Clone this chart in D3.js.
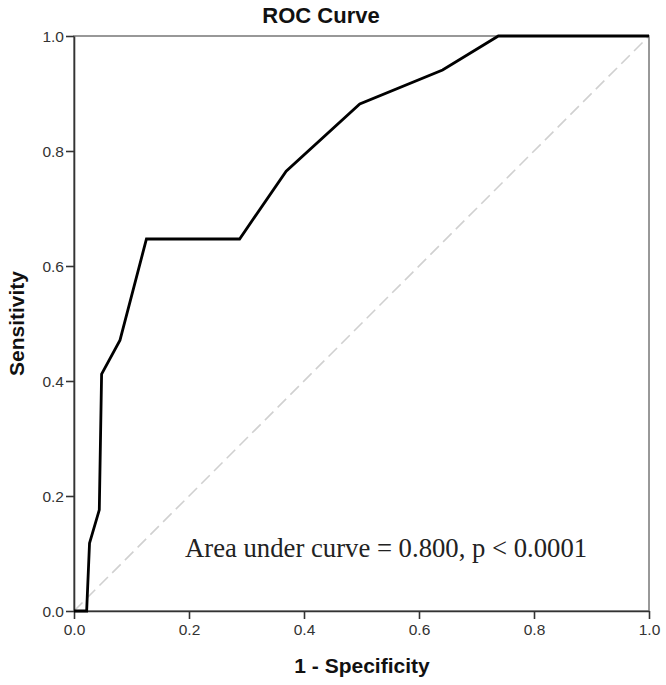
<!DOCTYPE html>
<html>
<head>
<meta charset="utf-8">
<script src="https://cdn.jsdelivr.net/npm/d3@7"></script>
<style>
  html, body { margin: 0; padding: 0; background: #fff; }
  svg { display: block; }
</style>
</head>
<body>
<svg id="chart" width="666" height="685"></svg>
<script>
// ---- data ----
const fpr = [0, 0.022, 0.027, 0.044, 0.048, 0.080, 0.126, 0.288, 0.369, 0.497, 0.641, 0.738, 1.0];
const sensitivity = [0, 0, 0.118, 0.176, 0.412, 0.471, 0.647, 0.647, 0.765, 0.882, 0.941, 1.0, 1.0];
const refLine = [0, 1];
const xTicks = [0, 0.2, 0.4, 0.6, 0.8, 1.0];
const yTicks = [0, 0.2, 0.4, 0.6, 0.8, 1.0];
const titleText = "ROC Curve";
const xLabel = "1 - Specificity";
const yLabel = "Sensitivity";
const annotation = "Area under curve = 0.800, p < 0.0001";

// ---- layout ----
const svg = d3.select("#chart");
const plotL = 74, plotR = 649, plotT = 36, plotB = 611;
const x = d3.scaleLinear().domain([0, 1]).range([plotL, plotR]);
const y = d3.scaleLinear().domain([0, 1]).range([plotB, plotT]);

// frame (top / right)
svg.append("rect")
  .attr("x", plotL).attr("y", plotT)
  .attr("width", plotR - plotL).attr("height", plotB - plotT)
  .attr("fill", "none").attr("stroke", "#777").attr("stroke-width", 1.5);

// reference diagonal
svg.append("line")
  .attr("x1", x(refLine[0])).attr("y1", y(refLine[0]))
  .attr("x2", x(refLine[1])).attr("y2", y(refLine[1]))
  .attr("stroke", "#d0d0d0").attr("stroke-width", 1.6)
  .attr("stroke-dasharray", "12,6");

// axes
const xAxis = d3.axisBottom(x).tickValues(xTicks).tickFormat(d3.format(".1f"))
  .tickSize(8).tickSizeOuter(0).tickPadding(5);
const yAxis = d3.axisLeft(y).tickValues(yTicks).tickFormat(d3.format(".1f"))
  .tickSize(8).tickSizeOuter(0).tickPadding(2);

const gx = svg.append("g").attr("transform", `translate(0,${plotB})`).call(xAxis);
const gy = svg.append("g").attr("transform", `translate(${plotL},0)`).call(yAxis);
[gx, gy].forEach(g => {
  g.select(".domain").attr("stroke", "#333").attr("stroke-width", 1.6);
  g.selectAll(".tick line").attr("stroke", "#333").attr("stroke-width", 1.6);
  g.selectAll(".tick text")
    .attr("fill", "#333")
    .style("font-family", "Liberation Sans, Arial, sans-serif")
    .style("font-size", "15.5px");
});
gy.selectAll(".tick text").attr("dy", "0.35em");

// ROC curve
const line = d3.line().x((d, i) => x(fpr[i])).y((d, i) => y(sensitivity[i]));
svg.append("path")
  .datum(fpr)
  .attr("d", line)
  .attr("fill", "none")
  .attr("stroke", "#000")
  .attr("stroke-width", 2.8)
  .attr("stroke-linejoin", "miter");

// title
svg.append("text")
  .attr("x", 321).attr("y", 23)
  .attr("text-anchor", "middle")
  .style("font-family", "Liberation Sans, Arial, sans-serif")
  .style("font-size", "22px").style("font-weight", "bold")
  .attr("fill", "#111")
  .text(titleText);

// x label
svg.append("text")
  .attr("x", 362).attr("y", 673)
  .attr("text-anchor", "middle")
  .style("font-family", "Liberation Sans, Arial, sans-serif")
  .style("font-size", "21px").style("font-weight", "bold")
  .attr("fill", "#111")
  .text(xLabel);

// y label
svg.append("text")
  .attr("transform", `translate(24,${(plotT + plotB) / 2}) rotate(-90)`)
  .attr("text-anchor", "middle")
  .style("font-family", "Liberation Sans, Arial, sans-serif")
  .style("font-size", "21px").style("font-weight", "bold")
  .attr("fill", "#111")
  .text(yLabel);

// annotation
svg.append("text")
  .attr("x", 185).attr("y", 557)
  .style("font-family", "Liberation Serif, 'Times New Roman', serif")
  .style("font-size", "26.7px")
  .attr("fill", "#222")
  .text(annotation);
</script>
</body>
</html>
